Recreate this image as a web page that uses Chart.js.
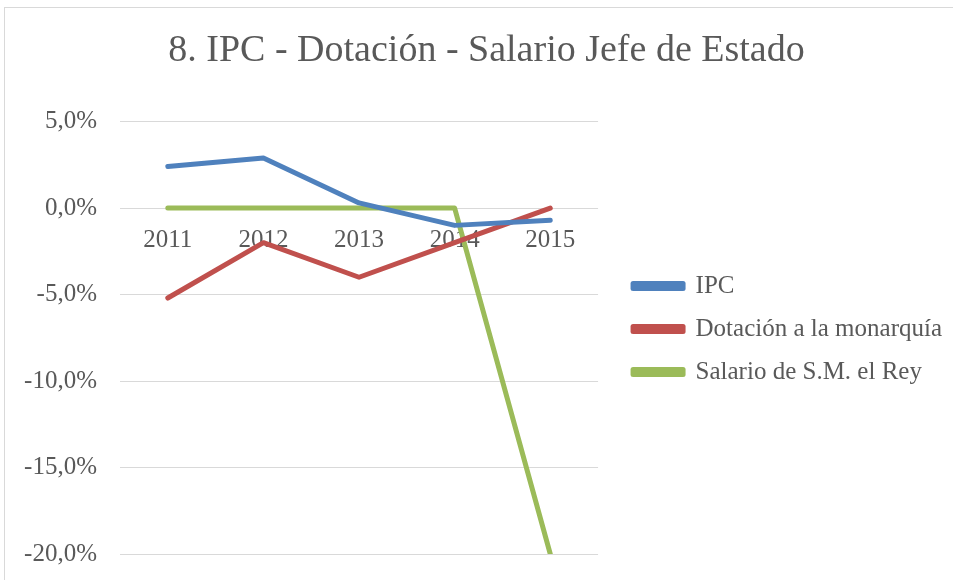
<!DOCTYPE html>
<html>
<head>
<meta charset="utf-8">
<script src="https://cdn.jsdelivr.net/npm/chart.js@4"></script>
<style>
  html, body { margin: 0; padding: 0; background: #fff; }
  #wrap { width: 953px; height: 580px; }
</style>
</head>
<body>
<div id="wrap"><canvas id="myChart" width="953" height="580"></canvas></div>
<script>
// data (percent)
const years = ['2011', '2012', '2013', '2014', '2015'];
const ipc = [2.4, 2.9, 0.3, -1.0, -0.7];
const dotacion = [-5.2, -2.0, -4.0, -2.0, 0.0];
const salario = [0, 0, 0, 0, -20.0];
const yTicks = [5, 0, -5, -10, -15, -20];

const grey = '#595959';
const serif = "'Liberation Serif', 'DejaVu Serif', serif";

// thin grey frame like the Excel chart area
const frame = {
  id: 'frame',
  beforeDraw(chart) {
    const c = chart.ctx;
    c.save();
    c.strokeStyle = '#d9d9d9';
    c.lineWidth = 1;
    c.strokeRect(4.5, 7.5, 1200, 1200);
    c.restore();
  }
};

// push the legend a bit away from the plot and down to where Excel puts it
const legendShift = {
  id: 'legendShift',
  beforeLayout(chart) {
    const lg = chart.legend;
    if (!lg || lg._shifted) return;
    const fit = lg.fit;
    const draw = lg.draw;
    lg.fit = function () { fit.call(this); this.width += 18; };
    lg.draw = function () {
      this.ctx.save();
      this.ctx.translate(17, 52);
      draw.call(this);
      this.ctx.restore();
    };
    lg._shifted = true;
  }
};

const ctx = document.getElementById('myChart').getContext('2d');
const myChart = new Chart(ctx, {
  type: 'line',
  data: {
    labels: years,
    datasets: [
      { label: 'IPC', data: ipc, borderColor: '#4F81BD', backgroundColor: '#4F81BD' },
      { label: 'Dotación a la monarquía', data: dotacion, borderColor: '#C0504D', backgroundColor: '#C0504D' },
      { label: 'Salario de S.M. el Rey', data: salario, borderColor: '#9BBB59', backgroundColor: '#9BBB59' }
    ]
  },
  options: {
    responsive: false,
    animation: false,
    layout: { padding: { left: 20, right: 0, top: 0, bottom: 26 } },
    elements: {
      line: { borderWidth: 5, tension: 0, borderCapStyle: 'round', borderJoinStyle: 'round' },
      point: { radius: 0 }
    },
    scales: {
      x: {
        position: { y: 0 },
        offset: true,
        afterFit(axis) {
          axis.height = 0;
          axis.paddingTop = 0;
          axis.paddingBottom = 0;
        },
        grid: { display: false },
        border: { display: false },
        ticks: { color: grey, font: { family: serif, size: 25 }, padding: 9 }
      },
      y: {
        min: -20,
        max: 5,
        afterBuildTicks(axis) { axis.ticks = yTicks.map(v => ({ value: v })); },
        afterFit(axis) {
          axis.width = 100;
          axis.paddingTop = 0;
          axis.paddingBottom = 0;
        },
        grid: { color: '#d9d9d9', lineWidth: 1, drawTicks: false },
        border: { display: false },
        ticks: {
          color: grey,
          font: { family: serif, size: 25 },
          padding: 23,
          callback: v => v.toFixed(1).replace('.', ',') + '%'
        }
      }
    },
    plugins: {
      title: {
        display: true,
        text: '8. IPC - Dotación - Salario Jefe de Estado',
        color: grey,
        font: { family: serif, size: 38, weight: 'normal' },
        padding: { top: 28, bottom: 48 }
      },
      legend: {
        position: 'right',
        maxWidth: 420,
        labels: {
          color: grey,
          font: { family: serif, size: 25 },
          boxWidth: 50,
          boxHeight: 5,
          padding: 18
        }
      },
      tooltip: { enabled: false }
    }
  },
  plugins: [frame, legendShift]
});
</script>
</body>
</html>
